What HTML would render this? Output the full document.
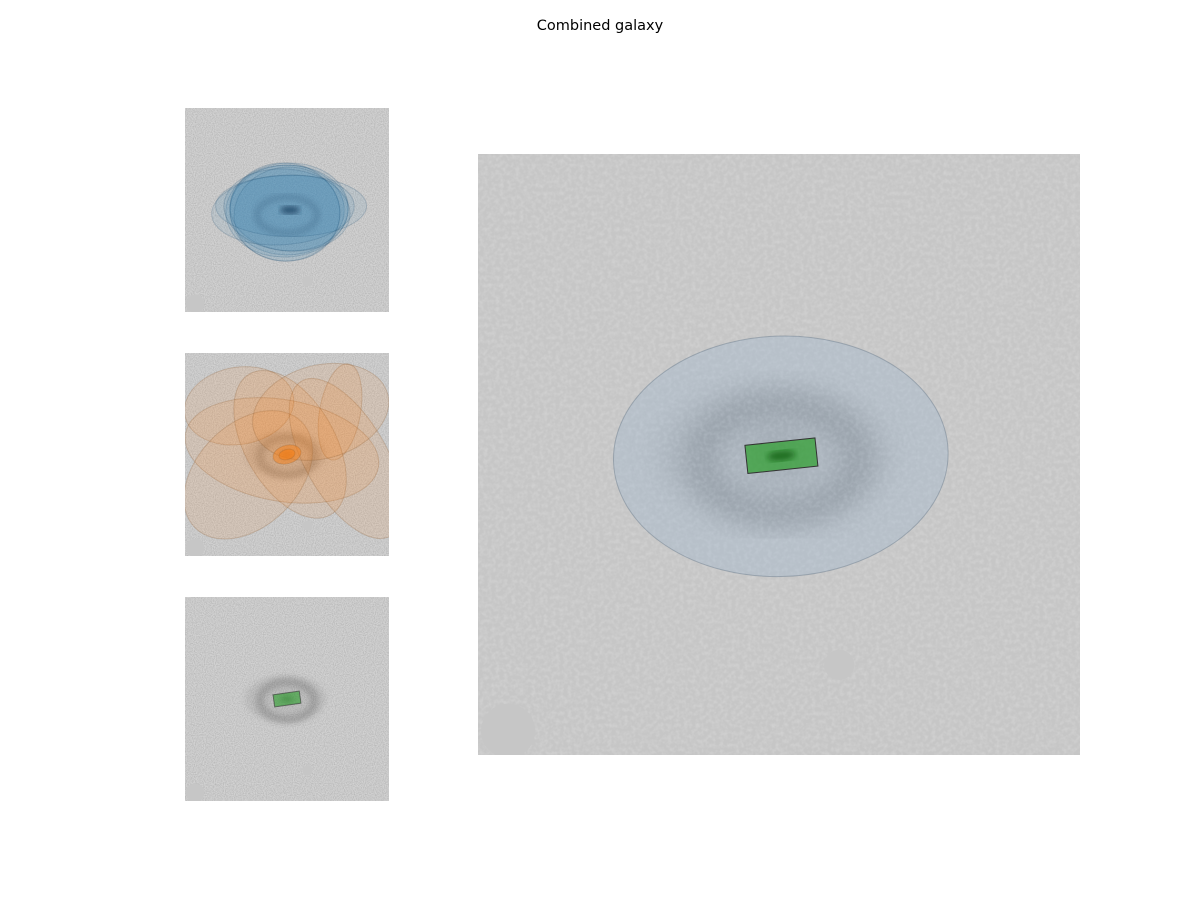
<!DOCTYPE html>
<html><head><meta charset="utf-8">
<style>
html,body{margin:0;padding:0;background:#fff;}
svg{display:block;font-family:"DejaVu Sans","Liberation Sans",sans-serif;}
</style></head>
<body>
<svg id="fig" width="1200" height="900" viewBox="0 0 1200 900">
<defs>
  <filter id="noiseS" x="0" y="0" width="100%" height="100%">
    <feTurbulence type="fractalNoise" baseFrequency="0.9" numOctaves="2" seed="3"/>
    <feColorMatrix type="matrix" values="0 0 0 0 0  0 0 0 0 0  0 0 0 0 0  0.9 0 0 0 -0.3"/>
  </filter>
  <filter id="noiseL" x="0" y="0" width="100%" height="100%">
    <feTurbulence type="fractalNoise" baseFrequency="0.25" numOctaves="2" seed="7"/>
    <feColorMatrix type="matrix" values="0 0 0 0 1  0 0 0 0 1  0 0 0 0 1  0 0 0 0.7 -0.25"/>
  </filter>
  <filter id="blur3"><feGaussianBlur stdDeviation="3"/></filter>
  <filter id="blur8"><feGaussianBlur stdDeviation="8"/></filter>
  <filter id="blur14"><feGaussianBlur stdDeviation="14"/></filter>
  <clipPath id="c1"><rect x="185" y="108" width="204" height="204"/></clipPath>
  <clipPath id="c2"><rect x="185" y="353" width="204" height="203"/></clipPath>
  <clipPath id="c3"><rect x="185" y="597" width="204" height="204"/></clipPath>
  <clipPath id="c4"><rect x="478" y="154" width="602" height="601"/></clipPath>
</defs>
<text x="600" y="30" text-anchor="middle" font-size="14.5" fill="#000">Combined galaxy</text>
<g id="layer"></g>
</svg>
<script>
// Panel boxes (x, y, size)
const panelNames = ['blue-panel','orange-panel','green-panel','combined-panel'];
const panelX = [185,185,185,478];
const panelY = [108,353,597,154];
const panelW = [204,204,204,602];
const panelH = [204,203,204,601];

// Blue panel ellipses: cx, cy, rx, ry (fractions of panel), angle deg
const blueCx = [0.50,0.50,0.49,0.51,0.50,0.52,0.48,0.50];
const blueCy = [0.50,0.50,0.51,0.49,0.52,0.48,0.50,0.50];
const blueRx = [0.28,0.30,0.27,0.29,0.26,0.37,0.35,0.31];
const blueRy = [0.22,0.23,0.24,0.21,0.23,0.15,0.17,0.20];
const blueAng = [0,-5,8,3,-8,0,-4,6];

// Orange panel ellipses
const orCx = [0.265,0.76,0.475,0.515,0.31,0.79,0.665,0.50,0.50];
const orCy = [0.26,0.29,0.48,0.45,0.60,0.52,0.29,0.50,0.50];
const orRx = [0.27,0.10,0.48,0.22,0.25,0.20,0.34,0.07,0.04];
const orRy = [0.19,0.24,0.25,0.40,0.37,0.44,0.23,0.045,0.025];
const orAng = [-10,10,10,-30,45,-30,-15,-15,-15];

// Green rectangles: cx, cy, w, h (fractions), angle
const grCx = [0.50];
const grCy = [0.50];
const grW = [0.13];
const grH = [0.06];
const grAng = [-8];

// Combined panel: ellipse and rectangle
const cmbEllCx = [0.503], cmbEllCy = [0.503], cmbEllRx = [0.278], cmbEllRy = [0.20], cmbEllAng = [-2];
const cmbRectCx = [0.504], cmbRectCy = [0.502], cmbRectW = [0.117], cmbRectH = [0.047], cmbRectAng = [-6];

const NS = 'http://www.w3.org/2000/svg';
const layer = document.getElementById('layer');
function mk(tag, attrs, parent){
  const e = document.createElementNS(NS, tag);
  for (const k in attrs) e.setAttribute(k, attrs[k]);
  (parent||layer).appendChild(e);
  return e;
}
function px(i,f){return panelX[i]+f*panelW[i];}
function py(i,f){return panelY[i]+f*panelH[i];}

for (let i=0;i<4;i++){
  const g = mk('g',{'clip-path':'url(#c'+(i+1)+')'});
  
  
  mk('rect',{x:panelX[i],y:panelY[i],width:panelW[i],height:panelH[i],fill:i==3?'#c6c6c6':'#d2d2d2'},g);
  const cx = px(i,0.5), cy = py(i,0.5);
  const k = i==3 ? 1 : 0.34;
  const gal = mk('g',{filter: i==3 ? 'url(#blur14)' : 'url(#blur3)'},g);
  if (i==2 || i==3 || i==1){
    mk('ellipse',{cx:cx,cy:cy+5*k,rx:80*k,ry:55*k,fill:'none',stroke:'#6a6a6a','stroke-width':24*k,opacity:i==3?0.5:0.35},gal);
    mk('ellipse',{cx:cx-5*k,cy:cy,rx:120*k,ry:70*k,fill:'#888',opacity:0.2},gal);
    mk('ellipse',{cx:cx,cy:cy,rx:20*k,ry:10*k,fill:'#444',opacity:0.5},gal);
  }
  mk('rect',{x:panelX[i],y:panelY[i],width:panelW[i],height:panelH[i],filter:i==3?'url(#noiseL)':'url(#noiseS)',opacity:i==3?0.5:0.3},g);
  mk('circle',{cx:panelX[i]+panelW[i]*0.05,cy:panelY[i]+panelH[i]*0.96,r:panelW[i]*0.045,fill:'#c6c6c6'},g);
  mk('circle',{cx:panelX[i]+panelW[i]*0.6,cy:panelY[i]+panelH[i]*0.85,r:panelW[i]*0.025,fill:'#c6c6c6'},g);

  if (i==0){
    for (let j=0;j<blueCx.length;j++){
      const e = mk('ellipse',{cx:px(0,blueCx[j]),cy:py(0,blueCy[j]),rx:blueRx[j]*panelW[0],ry:blueRy[j]*panelH[0],
        transform:'rotate('+blueAng[j]+' '+px(0,blueCx[j])+' '+py(0,blueCy[j])+')',
        fill:'#1f77b4','fill-opacity':0.09,stroke:'#1f4a6e','stroke-opacity':0.2,'stroke-width':1},g);
      
      
    }
    mk('ellipse',{cx:cx+3,cy:cy,rx:10,ry:4,fill:'#1e3f60',opacity:0.8,filter:'url(#blur3)'},g);
    mk('ellipse',{cx:cx,cy:cy+5,rx:30,ry:18,fill:'none',stroke:'#2c4f70','stroke-width':6,opacity:0.25,filter:'url(#blur3)'},g);
  }
  if (i==1){
    for (let j=0;j<orCx.length;j++){
      const e = mk('ellipse',{cx:px(1,orCx[j]),cy:py(1,orCy[j]),rx:orRx[j]*panelW[1],ry:orRy[j]*panelH[1],
        transform:'rotate('+orAng[j]+' '+px(1,orCx[j])+' '+py(1,orCy[j])+')',
        fill:'#ff7f0e','fill-opacity':j>=7?0.45:0.11,stroke:'#8a5a30','stroke-opacity':0.25,'stroke-width':1},g);
      
      
    }
  }
  if (i==2){
    for (let j=0;j<grCx.length;j++){
      const rcx=px(2,grCx[j]), rcy=py(2,grCy[j]), w=grW[j]*panelW[2], h=grH[j]*panelH[2];
      const e = mk('rect',{x:rcx-w/2,y:rcy-h/2,width:w,height:h,transform:'rotate('+grAng[j]+' '+rcx+' '+rcy+')',
        fill:'#2ca02c','fill-opacity':0.6,stroke:'#333','stroke-opacity':0.6,'stroke-width':1},g);
      
      
    }
  }
  if (i==3){
    for (let j=0;j<cmbEllCx.length;j++){
      const ecx=px(3,cmbEllCx[j]), ecy=py(3,cmbEllCy[j]);
      const e = mk('ellipse',{cx:ecx,cy:ecy,rx:cmbEllRx[j]*panelW[3],ry:cmbEllRy[j]*panelH[3],
        transform:'rotate('+cmbEllAng[j]+' '+ecx+' '+ecy+')',
        fill:'#8fb0d0','fill-opacity':0.28,stroke:'#6f8090','stroke-opacity':0.5,'stroke-width':1},g);
      
      
    }
    for (let j=0;j<cmbRectCx.length;j++){
      const rcx=px(3,cmbRectCx[j]), rcy=py(3,cmbRectCy[j]), w=cmbRectW[j]*panelW[3], h=cmbRectH[j]*panelH[3];
      const e = mk('rect',{x:rcx-w/2,y:rcy-h/2,width:w,height:h,transform:'rotate('+cmbRectAng[j]+' '+rcx+' '+rcy+')',
        fill:'#2ca02c','fill-opacity':0.7,stroke:'#333','stroke-width':1},g);
      
      
      mk('ellipse',{cx:rcx,cy:rcy,rx:14,ry:5,fill:'#0a5a0a',opacity:0.7,filter:'url(#blur3)',transform:'rotate('+cmbRectAng[j]+' '+rcx+' '+rcy+')'},g);
    }
  }
}
</script>
</body></html>
